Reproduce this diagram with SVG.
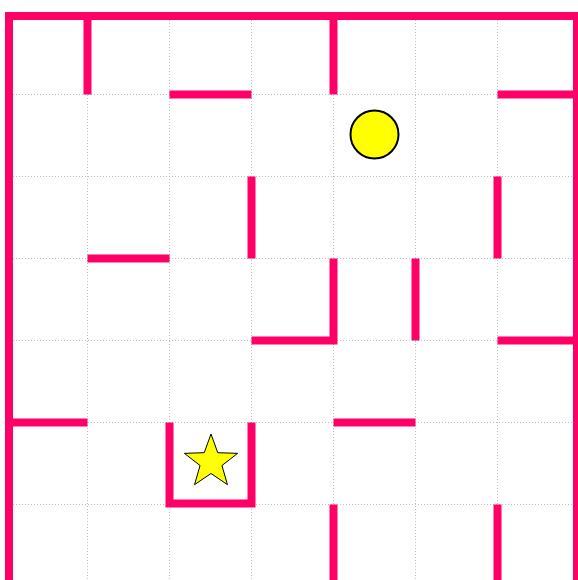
<svg xmlns="http://www.w3.org/2000/svg" width="578" height="580" viewBox="0 0 578 580">
<style>
.grid line{stroke:#bdbdbd;stroke-width:1;stroke-dasharray:1 2}
.wall{fill:none;stroke:#ff0066;stroke-width:8;stroke-linecap:butt;stroke-linejoin:miter}
</style>
<rect width="578" height="580" fill="#ffffff"/>
<g id="grid" class="grid">
<line x1="87.5" y1="20" x2="87.5" y2="580"/>
<line x1="169.5" y1="20" x2="169.5" y2="580"/>
<line x1="251.5" y1="20" x2="251.5" y2="580"/>
<line x1="333.5" y1="20" x2="333.5" y2="580"/>
<line x1="415.5" y1="20" x2="415.5" y2="580"/>
<line x1="497.5" y1="20" x2="497.5" y2="580"/>
<line x1="13" y1="94.5" x2="573" y2="94.5"/>
<line x1="13" y1="176.5" x2="573" y2="176.5"/>
<line x1="13" y1="258.5" x2="573" y2="258.5"/>
<line x1="13" y1="340.5" x2="573" y2="340.5"/>
<line x1="13" y1="422.5" x2="573" y2="422.5"/>
<line x1="13" y1="504.5" x2="573" y2="504.5"/>
</g>
<g id="walls">
<path id="border" class="wall" d="M9,590 V16 H577 V590"/>
<path class="wall" d="M87.5,16 V94.5"/>
<path class="wall" d="M333.5,16 V94.5"/>
<path class="wall" d="M169.5,94.5 H251.5"/>
<path class="wall" d="M497.5,94.5 H577"/>
<path class="wall" d="M251.5,176.5 V258.5"/>
<path class="wall" d="M497.5,176.5 V258.5"/>
<path class="wall" d="M87.5,258.5 H169.5"/>
<path class="wall" d="M333.5,258.5 V340.5 H251.5"/>
<path class="wall" d="M415.5,258.5 V340.5"/>
<path class="wall" d="M497.5,340.5 H577"/>
<path class="wall" d="M9,422.5 H87.5"/>
<path class="wall" d="M333.5,422.5 H415.5"/>
<path class="wall" d="M169.5,422.5 V503.5 H251.5 V422.5"/>
<path class="wall" d="M333.5,504.5 V590"/>
<path class="wall" d="M497.5,504.5 V590"/>
</g>
<g id="goal">
<circle cx="374.5" cy="134.5" r="24" fill="#ffff00" stroke="#000000" stroke-width="2"/>
</g>
<g id="start">
<polygon points="211,434 217.76,452.7 237.63,453.35 221.94,465.55 227.46,484.65 211,473.5 194.54,484.65 200.06,465.55 184.37,453.35 204.24,452.7" fill="#ffff00" stroke="#000000" stroke-width="1"/>
</g>
</svg>
